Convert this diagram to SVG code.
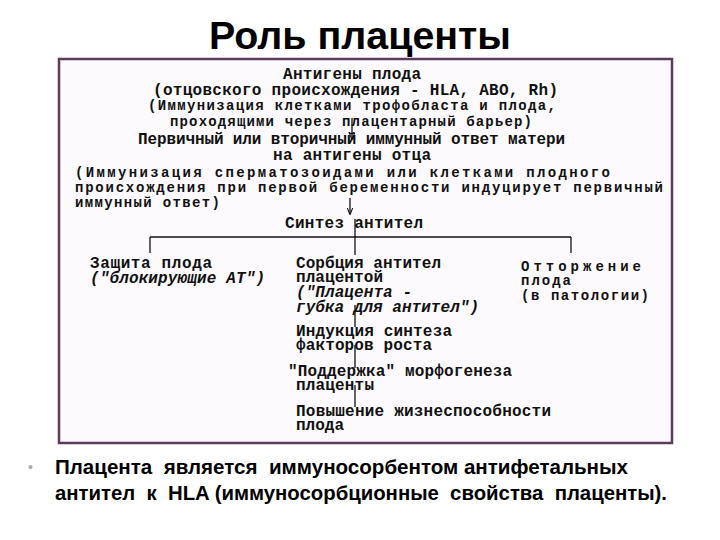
<svg xmlns="http://www.w3.org/2000/svg" width="720" height="540" viewBox="0 0 720 540">
<defs>
<style>
.title{font-family:"Liberation Sans",Arial,sans-serif;font-weight:bold;font-size:38px;fill:#000}
.m{font-family:"Liberation Mono","DejaVu Sans Mono",monospace;font-weight:bold;font-size:16px;fill:#111}
.s{font-family:"Liberation Mono","DejaVu Sans Mono",monospace;font-weight:bold;font-size:14px;fill:#111}
.i{font-style:italic}
.b{font-family:"Liberation Sans",Arial,sans-serif;font-weight:bold;font-size:19.5px;fill:#000}
.ln{stroke:#111;stroke-width:1.3;fill:none}
</style>
<marker id="ah" viewBox="0 0 10 10" refX="9" refY="5" markerWidth="7" markerHeight="7" orient="auto" markerUnits="userSpaceOnUse">
<path d="M0,1 L10,5 L0,9" fill="none" stroke="#111" stroke-width="1.5"/>
</marker>
</defs>
<rect x="0" y="0" width="720" height="540" fill="#fff"/>
<text class="title" x="360" y="49" text-anchor="middle" textLength="302" lengthAdjust="spacingAndGlyphs">Роль плаценты</text>
<rect id="frame" x="59" y="59" width="613" height="384" fill="#fcfafc" stroke="#5b3b5b" stroke-width="2.5"/>

<g id="connectors">
<line class="ln" x1="352" y1="118" x2="352" y2="139" marker-end="url(#ah)"/>
<line class="ln" x1="350" y1="198" x2="350" y2="214" marker-end="url(#ah)"/>
<line class="ln" x1="355" y1="219" x2="355" y2="255"/>
<line class="ln" x1="150" y1="237" x2="571" y2="237"/>
<line class="ln" x1="150" y1="237" x2="150" y2="253"/>
<line class="ln" x1="571" y1="237" x2="571" y2="253"/>
<line class="ln" x1="355" y1="305" x2="355" y2="327"/>
<line class="ln" x1="355" y1="345" x2="355" y2="368"/>
<line class="ln" x1="355" y1="385" x2="355" y2="407"/>
</g>

<g id="n-antigens">
<text class="m" x="283" y="79" textLength="138" lengthAdjust="spacing">Антигены плода</text>
<text class="m" x="153" y="95" textLength="405" lengthAdjust="spacing">(отцовского происхождения - HLA, ABO, Rh)</text>
<text class="s" x="148" y="110" textLength="408" lengthAdjust="spacing">(Иммунизация клетками трофобласта и плода,</text>
<text class="s" x="170" y="126" textLength="362" lengthAdjust="spacing">проходящими через плацентарный барьер)</text>
</g>
<g id="n-response">
<text class="m" x="138" y="144" textLength="427" lengthAdjust="spacing">Первичный или вторичный иммунный ответ матери</text>
<text class="m" x="273" y="160" textLength="158" lengthAdjust="spacing">на антигены отца</text>
<text class="s" x="75" y="177" textLength="535" lengthAdjust="spacing">(Иммунизация сперматозоидами или клетками плодного</text>
<text class="s" x="75" y="192" textLength="588" lengthAdjust="spacing">происхождения при первой беременности индуцирует первичный</text>
<text class="s" x="75" y="207" textLength="145" lengthAdjust="spacing">иммунный ответ)</text>
</g>
<g id="n-synth">
<text class="m" x="285" y="228" textLength="138" lengthAdjust="spacing">Синтез антител</text>
</g>
<g id="n-protect">
<text class="m" x="90" y="268" textLength="122" lengthAdjust="spacing">Защита плода</text>
<text class="m i" x="90" y="283" textLength="175" lengthAdjust="spacing">("блокирующие АТ")</text>
</g>
<g id="n-sorb">
<text class="m" x="296" y="268" textLength="145" lengthAdjust="spacing">Сорбция антител</text>
<text class="m" x="296" y="282" textLength="87" lengthAdjust="spacing">плацентой</text>
<text class="m i" x="296" y="297" textLength="116" lengthAdjust="spacing">("Плацента -</text>
<text class="m i" x="296" y="312" textLength="183" lengthAdjust="spacing">губка для антител")</text>
</g>
<g id="n-reject">
<text class="s" x="521" y="271" textLength="120" lengthAdjust="spacing">Отторжение</text>
<text class="s" x="521" y="285" textLength="50" lengthAdjust="spacing">плода</text>
<text class="s" x="521" y="300" textLength="128" lengthAdjust="spacing">(в патологии)</text>
</g>
<g id="n-induct">
<text class="m" x="296" y="336" textLength="156" lengthAdjust="spacing">Индукция синтеза</text>
<text class="m" x="296" y="350" textLength="136" lengthAdjust="spacing">факторов роста</text>
</g>
<g id="n-support">
<text class="m" x="288" y="376" textLength="224" lengthAdjust="spacing">"Поддержка" морфогенеза</text>
<text class="m" x="296" y="390" textLength="78" lengthAdjust="spacing">плаценты</text>
</g>
<g id="n-viab">
<text class="m" x="296" y="416" textLength="255" lengthAdjust="spacing">Повышение жизнеспособности</text>
<text class="m" x="296" y="430" textLength="48" lengthAdjust="spacing">плода</text>
</g>

<g id="bullet">
<text x="28" y="472" font-family="Liberation Sans,Arial,sans-serif" font-size="14" fill="#aaa">•</text>
<text class="b" x="55" y="474" xml:space="preserve" textLength="573" lengthAdjust="spacingAndGlyphs">Плацента  является  иммуносорбентом антифетальных</text>
<text class="b" x="55" y="500" xml:space="preserve" textLength="612" lengthAdjust="spacingAndGlyphs">антител  к  HLA (иммуносорбционные  свойства  плаценты).</text>
</g>
</svg>
